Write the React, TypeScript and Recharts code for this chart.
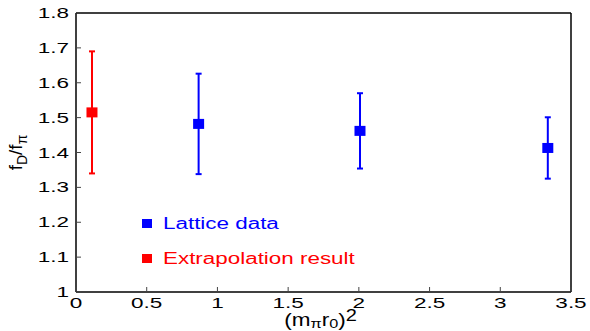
import React from 'react';
import { ScatterChart, Scatter, XAxis, YAxis, ErrorBar, Legend } from 'recharts';

const xTicks = [0, 0.5, 1, 1.5, 2, 2.5, 3, 3.5];
const yTicks = [1, 1.1, 1.2, 1.3, 1.4, 1.5, 1.6, 1.7, 1.8];

const latticeX = [0.867, 2.008, 3.336];
const latticeY = [1.482, 1.462, 1.413];
const latticeErr = [0.144, 0.108, 0.088];

const extrapX = [0.113];
const extrapY = [1.515];
const extrapErr = [0.175];

const legendNames = ['Lattice data', 'Extrapolation result'];
const legendColors = ['#0000ff', '#ff0000'];

const FONT = '"Liberation Sans", Arial, sans-serif';
const SX = 1.5;

const lattice = latticeX.map((x, i) => ({ x, y: latticeY[i], err: [latticeErr[i], latticeErr[i]] }));
const extrap = extrapX.map((x, i) => ({ x, y: extrapY[i], err: [extrapErr[i], extrapErr[i]] }));

const XTick = (p: any) => {
  const { x, y, payload } = p;
  return (
    <g>
      <line x1={x} y1={y} x2={x} y2={y - 5} stroke="#444" strokeWidth={1} />
      <text transform={`translate(${x},${y + 16}) scale(${SX},1)`} textAnchor="middle" fontFamily={FONT} fontSize={15} fill="#000">
        {String(payload.value)}
      </text>
    </g>
  );
};

const YTick = (p: any) => {
  const { x, y, payload } = p;
  return (
    <g>
      <line x1={x} y1={y} x2={x + 5} y2={y} stroke="#444" strokeWidth={1} />
      <text transform={`translate(${x - 7},${y + 5}) scale(${SX},1)`} textAnchor="end" fontFamily={FONT} fontSize={15} fill="#000">
        {String(payload.value)}
      </text>
    </g>
  );
};

const XLabel = (p: any) => {
  const vb = p.viewBox;
  const cx = vb.x + vb.width / 2 - 3;
  const cy = vb.y + 34;
  return (
    <text transform={`translate(${cx},${cy}) scale(1.25,1)`} textAnchor="middle" fontFamily={FONT} fontSize={18} fill="#000">
      <tspan>(m</tspan>
      <tspan dy={2} fontSize={13}>π</tspan>
      <tspan dy={-2}>r</tspan>
      <tspan dy={2} fontSize={13}>0</tspan>
      <tspan dy={-2}>)</tspan>
      <tspan dy={-5} fontSize={16}>2</tspan>
    </text>
  );
};

const YLabel = (p: any) => {
  const vb = p.viewBox;
  const cx = vb.x - 53;
  const cy = vb.y + vb.height / 2;
  return (
    <text transform={`translate(${cx},${cy}) rotate(-90)`} textAnchor="middle" fontFamily={FONT} fontSize={19} fill="#000">
      <tspan>f</tspan>
      <tspan dy={5} fontSize={14}>D</tspan>
      <tspan dy={-5}>/f</tspan>
      <tspan dy={5} fontSize={14}>π</tspan>
    </text>
  );
};

const square = (color: string) => (p: any) => (
  <rect x={p.cx - 5.5} y={p.cy - 5} width={11} height={10} fill={color} />
);

const LegendContent = () => (
  <div style={{ fontFamily: FONT }}>
    {legendNames.map((n, i) => (
      <div key={n} style={{ position: 'relative', height: 35, display: 'flex', alignItems: 'center' }}>
        <div style={{ width: 10, height: 9, background: legendColors[i], marginRight: 11 }} />
        <span style={{ color: legendColors[i], fontSize: 16, display: 'inline-block', transform: 'scale(1.4,1)', transformOrigin: 'left center', whiteSpace: 'nowrap' }}>
          {n}
        </span>
      </div>
    ))}
  </div>
);

export default function App() {
  return (
    <div style={{ position: 'absolute', left: 0, top: 0, width: 590, height: 331, background: '#fff' }}>
      <ScatterChart width={590} height={331} margin={{ top: 13, right: 19, bottom: 38, left: 75 }}>
        <XAxis
          type="number"
          dataKey="x"
          domain={[0, 3.5]}
          ticks={xTicks}
          interval={0}
          height={1}
          tickSize={0}
          tickMargin={0}
          tickLine={false}
          tick={<XTick />}
          axisLine={{ stroke: '#000', strokeWidth: 1.5 }}
          label={<XLabel />}
        />
        <XAxis
          xAxisId="top"
          type="number"
          dataKey="x"
          orientation="top"
          domain={[0, 3.5]}
          ticks={xTicks}
          interval={0}
          height={1}
          mirror
          tick={false}
          tickSize={5}
          tickLine={{ stroke: '#444' }}
          axisLine={{ stroke: '#000', strokeWidth: 1.5 }}
        />
        <YAxis
          type="number"
          dataKey="y"
          domain={[1, 1.8]}
          ticks={yTicks}
          interval={0}
          width={1}
          tickSize={0}
          tickMargin={0}
          tickLine={false}
          tick={<YTick />}
          axisLine={{ stroke: '#000', strokeWidth: 1.5 }}
          label={<YLabel />}
        />
        <YAxis
          yAxisId="right"
          type="number"
          dataKey="y"
          orientation="right"
          domain={[1, 1.8]}
          ticks={yTicks}
          interval={0}
          width={1}
          mirror
          tick={false}
          tickSize={5}
          tickLine={{ stroke: '#444' }}
          axisLine={{ stroke: '#000', strokeWidth: 1.5 }}
        />
        <Legend
          content={<LegendContent />}
          layout="horizontal"
          align="center"
          verticalAlign="middle"
          wrapperStyle={{ position: 'absolute', left: 142, top: 206, width: 'auto', height: 'auto' }}
        />
        <Scatter name="Lattice data" data={lattice} fill="#0000ff" shape={square('#0000ff')} isAnimationActive={false}>
          <ErrorBar dataKey="err" direction="y" width={3} stroke="#0000ff" strokeWidth={2} isAnimationActive={false} />
        </Scatter>
        <Scatter name="Extrapolation result" data={extrap} fill="#ff0000" shape={square('#ff0000')} isAnimationActive={false}>
          <ErrorBar dataKey="err" direction="y" width={3} stroke="#ff0000" strokeWidth={2} isAnimationActive={false} />
        </Scatter>
      </ScatterChart>
    </div>
  );
}
